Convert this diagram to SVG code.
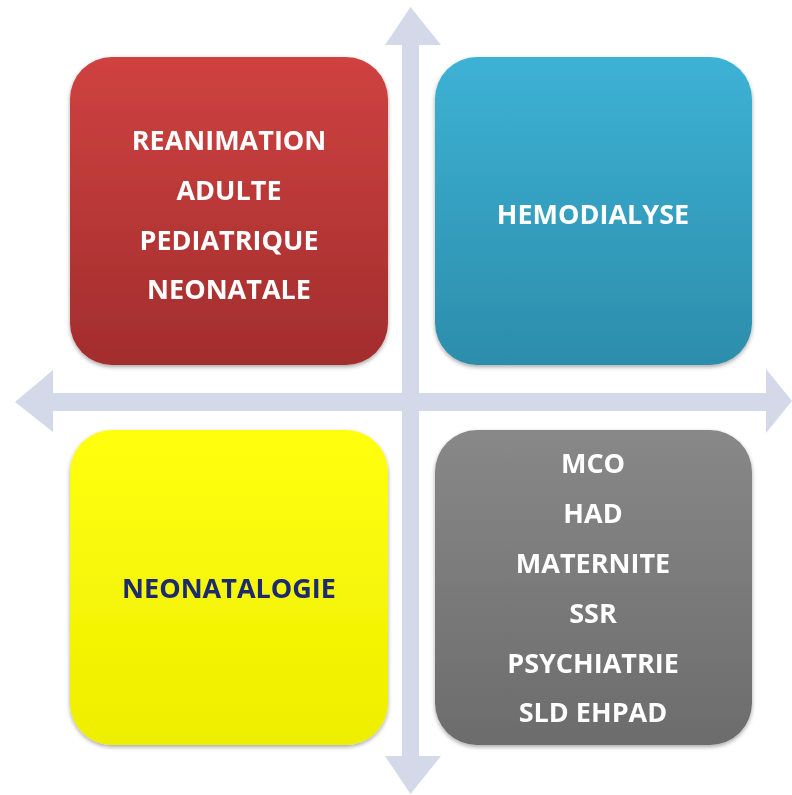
<svg xmlns="http://www.w3.org/2000/svg" width="792" height="795" viewBox="0 0 792 795">
<defs>
<linearGradient id="gRed" x1="0" y1="0" x2="0" y2="1"><stop offset="0" stop-color="#CF4240"/><stop offset="1" stop-color="#A22D2D"/></linearGradient>
<linearGradient id="gBlue" x1="0" y1="0" x2="0" y2="1"><stop offset="0" stop-color="#3DB2D5"/><stop offset="1" stop-color="#2C8DAB"/></linearGradient>
<linearGradient id="gYellow" x1="0" y1="0" x2="0" y2="1"><stop offset="0" stop-color="#FFFF10"/><stop offset="1" stop-color="#EEEE00"/></linearGradient>
<linearGradient id="gGray" x1="0" y1="0" x2="0" y2="1"><stop offset="0" stop-color="#888888"/><stop offset="1" stop-color="#6C6C6C"/></linearGradient>
<filter id="sh" x="-10%" y="-10%" width="120%" height="120%"><feGaussianBlur in="SourceAlpha" stdDeviation="2"/><feOffset dx="0" dy="2"/><feComponentTransfer><feFuncA type="linear" slope="0.35"/></feComponentTransfer><feMerge><feMergeNode/><feMergeNode in="SourceGraphic"/></feMerge></filter>
</defs>
<style>
.lbl{font-family:"Open Sans","Liberation Sans",sans-serif;font-weight:bold;font-size:27px;text-anchor:middle;fill:#FFFFFF}
.axis{fill:#D3D9E8}
</style>
<g id="connectors">
<path class="axis" d="M410.5,7 L441,45 L419,45 L419,756 L441,756 L410.5,794 L385,756 L402,756 L402,45 L385,45 Z"/>
<path class="axis" d="M15,402 L53,370 L53,393 L766,393 L766,369 L792,401 L766,433 L766,411 L53,411 L53,432 Z"/>
</g>
<g id="reanimation" filter="url(#sh)">
<rect x="70" y="57" width="318" height="308" rx="42" fill="url(#gRed)"/>
<text class="lbl" x="229" y="150">REANIMATION</text>
<text class="lbl" x="229" y="200">ADULTE</text>
<text class="lbl" x="229" y="250">PEDIATRIQUE</text>
<text class="lbl" x="229" y="299">NEONATALE</text>
</g>
<g id="hemodialyse" filter="url(#sh)">
<rect x="435" y="57" width="317" height="308" rx="42" fill="url(#gBlue)"/>
<text class="lbl" x="593" y="224">HEMODIALYSE</text>
</g>
<g id="neonatalogie" filter="url(#sh)">
<rect x="70" y="430" width="318" height="315" rx="42" fill="url(#gYellow)"/>
<text class="lbl" x="229" y="598" style="fill:#1F2A6E">NEONATALOGIE</text>
</g>
<g id="mco" filter="url(#sh)">
<rect x="435" y="430" width="317" height="315" rx="42" fill="url(#gGray)"/>
<text class="lbl" x="593" y="473">MCO</text>
<text class="lbl" x="593" y="523">HAD</text>
<text class="lbl" x="593" y="573">MATERNITE</text>
<text class="lbl" x="593" y="623">SSR</text>
<text class="lbl" x="593" y="673">PSYCHIATRIE</text>
<text class="lbl" x="593" y="722">SLD EHPAD</text>
</g>
</svg>
